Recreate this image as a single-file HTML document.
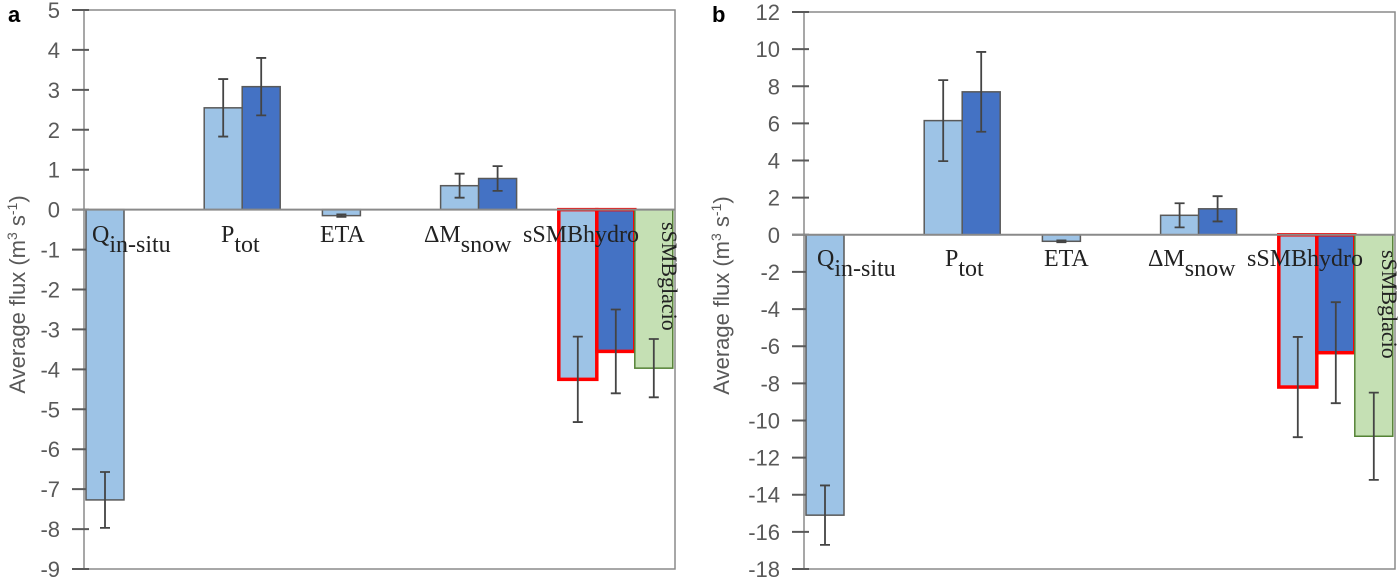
<!DOCTYPE html>
<html><head><meta charset="utf-8"><style>
html,body{margin:0;padding:0;background:#fff;}
svg{display:block;}
.tick{font-family:"Liberation Sans",sans-serif;font-size:22px;fill:#595959;}
.cat{font-family:"Liberation Serif",serif;font-size:24px;fill:#222;}
.ttl{font-family:"Liberation Sans",sans-serif;font-size:22px;fill:#595959;}
.pl{font-family:"Liberation Sans",sans-serif;font-size:22px;font-weight:bold;fill:#000;}
</style></head><body>
<svg id="chart" width="1400" height="584"></svg>
<script>
const categories = ["Q","Ptot","ETA","dMsnow","sSMB"];
// series: light (model 1), dark (model 2), green (glacio)
const aLight = [-7.27, 2.55, -0.15, 0.6, -4.25];
const aLightErr = [0.7, 0.72, 0.03, 0.3, 1.07];
const aDark = [null, 3.08, null, 0.78, -3.55];
const aDarkErr = [0, 0.72, 0, 0.31, 1.05];
const aGreen = [null, null, null, null, -3.97];
const aGreenErr = [0, 0, 0, 0, 0.73];
const bLight = [-15.1, 6.15, -0.35, 1.05, -8.2];
const bLightErr = [1.6, 2.18, 0.05, 0.65, 2.7];
const bDark = [null, 7.7, null, 1.4, -6.35];
const bDarkErr = [0, 2.15, 0, 0.68, 2.72];
const bGreen = [null, null, null, null, -10.85];
const bGreenErr = [0, 0, 0, 0, 2.35];
const aTicks = [5,4,3,2,1,0,-1,-2,-3,-4,-5,-6,-7,-8,-9];
const bTicks = [12,10,8,6,4,2,0,-2,-4,-6,-8,-10,-12,-14,-16,-18];

const NS="http://www.w3.org/2000/svg";
const svg=document.getElementById('chart');
function mk(tag,attrs,parent){const e=document.createElementNS(NS,tag);for(const k in attrs)e.setAttribute(k,attrs[k]);(parent||svg).appendChild(e);return e;}

function panel(cfg){
  const g=mk('g',{});
  
  
  const y=v=>cfg.top+(cfg.max-v)*(cfg.bottom-cfg.top)/(cfg.max-cfg.min);
  const gw=(cfg.right-cfg.left)/categories.length;
  const bw=38;
  const fr=mk('rect',{x:cfg.left,y:cfg.top,width:cfg.right-cfg.left,height:cfg.bottom-cfg.top,fill:'none',stroke:'#8a8a8a','stroke-width':1.5},g);
  
  
  cfg.ticks.forEach(t=>{
    const ty=y(t);
    const tl=mk('line',{x1:cfg.left-12,x2:cfg.left+5,y1:ty,y2:ty,stroke:'#595959','stroke-width':2},g);
    
    
    const tx=mk('text',{x:cfg.left-24,y:ty+8,'text-anchor':'end',class:'tick'},g);
    tx.textContent=String(t);
    
    
  });
  const series=[[cfg.light,cfg.lightErr,'#9DC3E6','#595959'],[cfg.dark,cfg.darkErr,'#4472C4','#595959'],[cfg.green,cfg.greenErr,'#C5E0B4','#548235']];
  const y0=y(0);
  series.forEach((s,si)=>{
    s[0].forEach((v,ci)=>{
      if(v===null)return;
      const x=cfg.left+ci*gw+2+si*bw;
      const top=Math.min(y(v),y0),h=Math.abs(y(v)-y0);
      const red=(ci===4&&si<2);
      const r=mk('rect',{x:x,y:top,width:bw,height:h,fill:s[2],stroke:red?'#ff0000':s[3],'stroke-width':red?3.5:1.5},g);
      
      
      const e=s[1][ci];
      if(e>0){
        const cx=x+bw/2;
        const el=mk('path',{d:`M${cx},${y(v+e)}V${y(v-e)}M${cx-5},${y(v+e)}H${cx+5}M${cx-5},${y(v-e)}H${cx+5}`,stroke:'#444','stroke-width':1.8,fill:'none'},g);
        
        
      }
    });
  });
  const zl=mk('line',{x1:cfg.left-12,x2:cfg.right,y1:y0,y2:y0,stroke:'#8a8a8a','stroke-width':2},g);
  
  
  const lb=cfg.labelY;
  const labs=[['Q','in-situ'],['P','tot'],['ETA',''],['\u0394M','snow'],['sSMBhydro','']];
  labs.forEach((l,i)=>{
    const t=mk('text',{x:cfg.labelX[i],y:lb,class:'cat'},g);
    
    
    t.appendChild(document.createTextNode(l[0]));
    if(l[1]){const s=mk('tspan',{dy:10},t);s.textContent=l[1];}
  });
  const gx=cfg.left+4*gw+2+2*bw+bw/2+8;
  const gl=mk('text',{x:gx,y:cfg.glacioY,class:'cat',transform:`rotate(90 ${gx} ${cfg.glacioY})`,style:'font-size:22px'},g);
  gl.textContent='sSMBglacio';
  
  
  const cy=(cfg.top+cfg.bottom)/2+5;
  const at=mk('text',{x:cfg.titleX,y:cy,class:'ttl','text-anchor':'middle',transform:`rotate(-90 ${cfg.titleX} ${cy})`},g);
  
  
  at.appendChild(document.createTextNode('Average flux (m'));
  const s1=mk('tspan',{dy:-8,'font-size':14},at);s1.textContent='3';
  const s2=mk('tspan',{dy:8},at);s2.textContent=' s';
  const s3=mk('tspan',{dy:-8,'font-size':14},at);s3.textContent='-1';
  const s4=mk('tspan',{dy:8},at);s4.textContent=')';
  const p=mk('text',{x:cfg.plX,y:22,class:'pl'},g);
  p.textContent=cfg.letter;
  
  
}
panel({name:'panel-a',letter:'a',plX:8,left:84,right:675,top:10,bottom:569,max:5,min:-9,ticks:aTicks,
  light:aLight,lightErr:aLightErr,dark:aDark,darkErr:aDarkErr,green:aGreen,greenErr:aGreenErr,
  labelY:242,labelX:[92,221,320,424,523],glacioY:222,titleX:25});
panel({name:'panel-b',letter:'b',plX:712,left:804,right:1395,top:12,bottom:569,max:12,min:-18,ticks:bTicks,
  light:bLight,lightErr:bLightErr,dark:bDark,darkErr:bDarkErr,green:bGreen,greenErr:bGreenErr,
  labelY:266,labelX:[817,945,1044,1148,1247],glacioY:250,titleX:729});
</script>
</body></html>
